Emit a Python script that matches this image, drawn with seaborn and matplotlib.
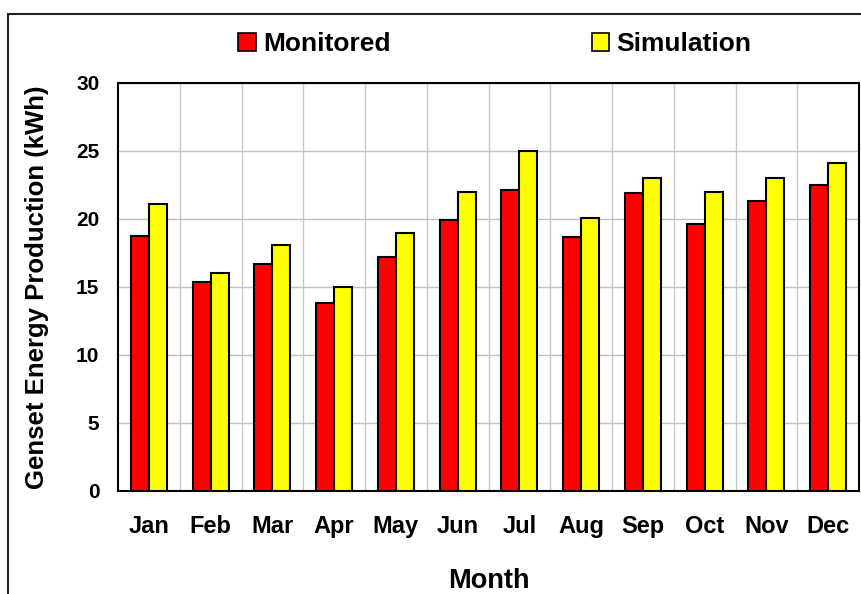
import pandas as pd
import matplotlib
matplotlib.use('Agg')
import matplotlib.pyplot as plt
import seaborn as sns
from matplotlib.patches import Patch, Rectangle

months = ['Jan', 'Feb', 'Mar', 'Apr', 'May', 'Jun', 'Jul', 'Aug', 'Sep', 'Oct', 'Nov', 'Dec']
monitored = [18.75, 15.4, 16.7, 13.85, 17.2, 19.95, 22.15, 18.65, 21.9, 19.65, 21.35, 22.5]
simulation = [21.1, 16.0, 18.1, 15.0, 19.0, 22.0, 25.0, 20.05, 23.05, 22.0, 23.05, 24.1]
series_names = ['Monitored', 'Simulation']
series_colors = ['#ff0000', '#ffff00']
y_ticks = [0, 5, 10, 15, 20, 25, 30]

df = pd.DataFrame({'Month': months, 'Monitored': monitored, 'Simulation': simulation})
long_df = df.melt(id_vars='Month', value_vars=series_names, var_name='Series', value_name='Energy')

sns.set_style('white')
plt.rcParams['font.family'] = ['Liberation Sans', 'DejaVu Sans']
plt.rcParams['font.weight'] = 'bold'
for key in ['text.color', 'axes.labelcolor', 'xtick.color', 'ytick.color']:
    plt.rcParams[key] = 'black'

fig = plt.figure(figsize=(8.61, 5.94), dpi=100)
ax = fig.add_axes([118 / 861, 103 / 594, 741 / 861, 408 / 594])

sns.barplot(data=long_df, x='Month', y='Energy', hue='Series', order=months,
            hue_order=series_names, palette=series_colors, width=0.58,
            edgecolor='black', linewidth=1.5, saturation=1, ax=ax, legend=False, zorder=3)

ax.set_ylim(0, 30)
ax.set_yticks(y_ticks)
ax.set_xlim(-0.5, len(months) - 0.5)
ax.set_xticks([i + 0.5 for i in range(len(months) - 1)], minor=True)
ax.grid(False)
ax.grid(axis='y', which='major', color='#c0c0c0', linewidth=1, zorder=0)
ax.grid(axis='x', which='minor', color='#c8c8c8', linewidth=1, zorder=0)
ax.set_axisbelow(True)
ax.tick_params(axis='y', direction='in', length=7, width=1.2, labelsize=15, pad=13.5)
ax.tick_params(axis='x', which='both', length=0, labelsize=17, pad=17)
for lab in ax.get_xticklabels() + ax.get_yticklabels():
    lab.set_fontweight('bold')
for s in ax.spines.values():
    s.set_color('black')
    s.set_linewidth(1.5)

ax.set_xlabel('Month', fontsize=19.5, fontweight='bold', labelpad=22)
ax.set_ylabel('Genset Energy Production (kWh)', fontsize=18.5, fontweight='bold', labelpad=19)

handles = [Patch(facecolor=c, edgecolor='black', linewidth=1.2) for c in series_colors]
fig.legend(handles, series_names, loc='center', bbox_to_anchor=(495 / 861, 1 - 44 / 594), ncol=2,
           frameon=False, prop={'size': 19, 'weight': 'bold'}, handlelength=0.65,
           handleheight=0.65, handletextpad=0.3, columnspacing=7.6)

# outer chart frame
fig.patches.append(Rectangle((8 / 861, -0.02), 1.0, 1 - 14 / 594 + 0.02, transform=fig.transFigure,
                             fill=False, edgecolor='#222222', linewidth=1.5))

plt.savefig('out.png', dpi=100)
plt.close()
